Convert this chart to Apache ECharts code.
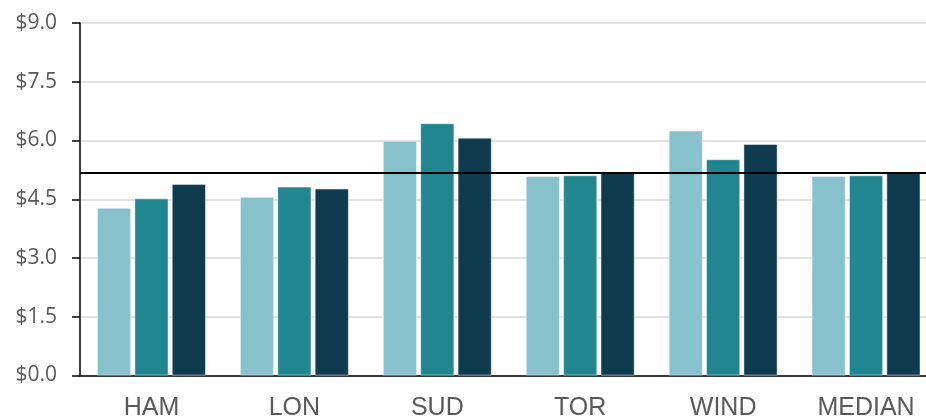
<!DOCTYPE html>
<html>
<head>
<meta charset="utf-8">
<script src="https://cdn.jsdelivr.net/npm/echarts@6/dist/echarts.min.js"></script>
<style>
  html, body { margin: 0; padding: 0; background: #fff; overflow: hidden; }
  #chart { width: 926px; height: 417px; }
</style>
</head>
<body>
<div id="chart"></div>
<script>
// Cities shown along the bottom
const categories = ['HAM', 'LON', 'SUD', 'TOR', 'WIND', 'MEDIAN'];

// Three price series per city (dollars)
const seriesA = [4.28, 4.56, 5.99, 5.09, 6.25, 5.09];
const seriesB = [4.52, 4.82, 6.44, 5.11, 5.52, 5.11];
const seriesC = [4.89, 4.77, 6.07, 5.19, 5.91, 5.19];

// Reference level drawn across the plot
const referenceLevel = 5.18;

// Value axis range and step
const yMin = 0;
const yMax = 9;
const yStep = 1.5;

const colors = ['#86C1CC', '#218690', '#0F3B4E'];

const chart = echarts.init(document.getElementById('chart'), null, { renderer: 'canvas' });

function barSeries(values, color, withLine) {
  const s = {
    type: 'bar',
    data: values,
    barWidth: 34,
    barGap: '10%',
    itemStyle: { color: color, borderColor: 'rgba(255,255,255,0.6)', borderWidth: 0.8 },
    emphasis: { disabled: true },
    animation: false
  };
  if (withLine) {
    s.markLine = {
      silent: true,
      symbol: ['none', 'none'],
      label: { show: false },
      lineStyle: { color: '#000', width: 2, type: 'solid' },
      data: [{ yAxis: referenceLevel }],
      animation: false
    };
  }
  return s;
}

chart.setOption({
  animation: false,
  // the last category band runs a little past the right edge of the page
  grid: { left: 80, top: 23, width: 857.5, height: 352.5, containLabel: false, outerBoundsMode: 'none' },
  xAxis: {
    type: 'category',
    data: categories,
    axisLine: { show: true, lineStyle: { color: '#000', width: 1.5 } },
    axisTick: { show: false },
    axisLabel: {
      color: '#595959',
      fontFamily: 'Liberation Sans, Arial, sans-serif',
      fontSize: 25,
      margin: 20
    }
  },
  yAxis: {
    type: 'value',
    min: yMin,
    max: yMax,
    interval: yStep,
    axisLine: { show: true, lineStyle: { color: '#000', width: 1.5 } },
    axisTick: { show: true, length: 8, lineStyle: { color: '#000', width: 1.5 } },
    axisLabel: {
      color: '#595959',
      fontFamily: '"Open Sans", sans-serif',
      fontSize: 21,
      margin: 23,
      formatter: v => '$' + v.toFixed(1)
    },
    splitLine: { show: true, lineStyle: { color: '#D9D9D9', width: 1.5 } }
  },
  series: [
    barSeries(seriesA, colors[0], false),
    barSeries(seriesB, colors[1], false),
    barSeries(seriesC, colors[2], true)
  ]
});
</script>
</body>
</html>
